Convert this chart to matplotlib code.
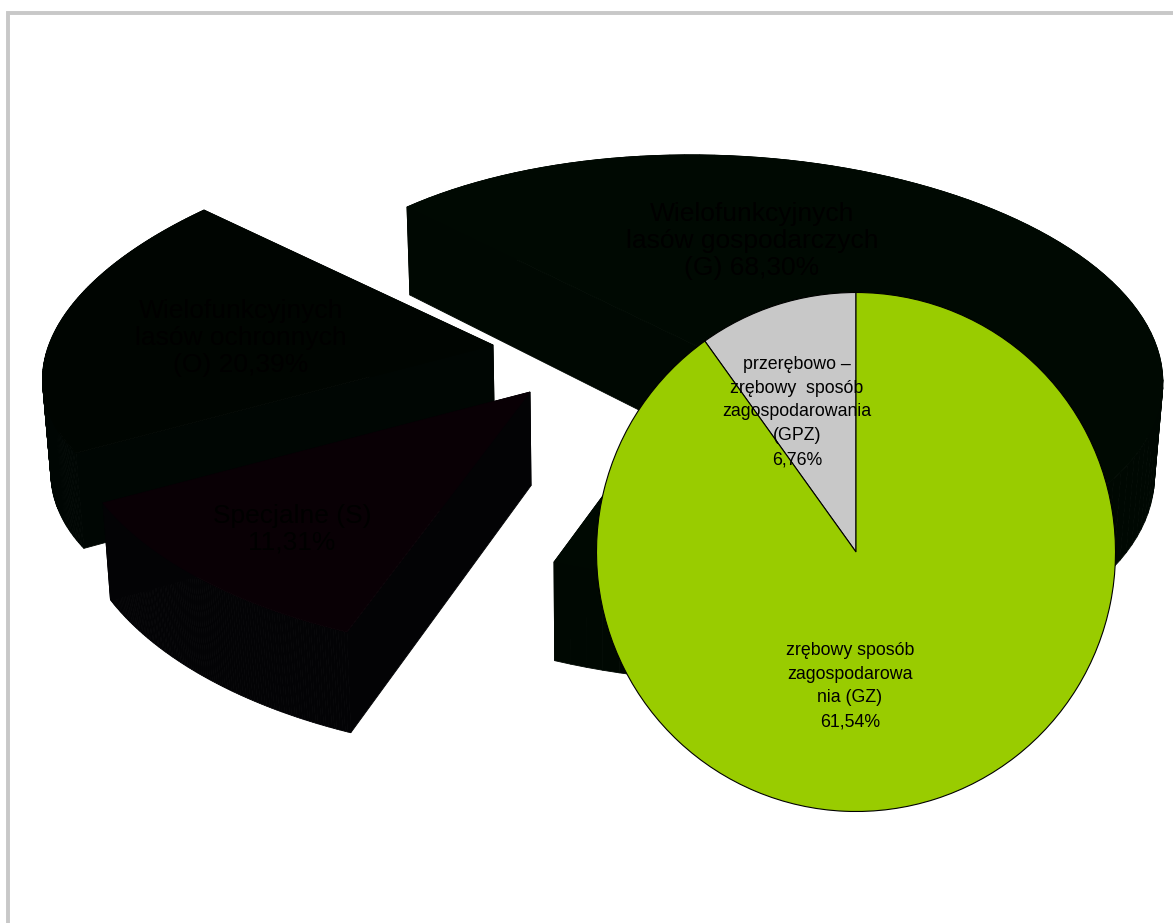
import numpy as np
import matplotlib
matplotlib.use("Agg")
import matplotlib.pyplot as plt

plt.rcParams['font.family'] = ['Liberation Sans', 'DejaVu Sans']

# DATA
big_names = ["G", "O", "S"]
big_values = [68.30, 20.39, 11.31]
big_labels = ["Wielofunkcyjnych\nlasów gospodarczych\n(G) 68,30%",
              "Wielofunkcyjnych\nlasów ochronnych\n(O) 20,39%",
              "Specjalne (S)\n11,31%"]

small_values = [6.76, 61.54]
small_labels = ["przerębowo –\nzrębowy  sposób\nzagospodarowania\n(GPZ)\n6,76%",
                "zrębowy sposób\nzagospodarowa\nnia (GZ)\n61,54%"]

# LOOK: where each exploded slice lands on the page (tip, arc start, arc middle, arc end)
placement = {
    "G": [(709, 352), (407, 207), (1140, 314), (554, 562)],
    "O": [(493, 345), (204, 210), (55, 331), (76, 453)],
    "S": [(530, 392), (347, 632), (199, 578), (103, 503)],
}
top_colors = {"G": "#000902", "O": "#000501", "S": "#090005"}
side_colors = {"G": "#000802", "O": "#000603", "S": "#030305"}
big_label_pos = [(752, 241), (241, 338), (292, 529)]
small_label_pos = [(797, 412), (850, 686)]


def homography(src, dst):
    a = []
    b = []
    for (x, y), (u, v) in zip(src, dst):
        a.append([x, y, 1, 0, 0, 0, -u * x, -u * y])
        a.append([0, 0, 0, x, y, 1, -v * x, -v * y])
        b += [u, v]
    h = np.linalg.solve(np.array(a, float), np.array(b, float))
    return np.append(h, 1).reshape(3, 3)


def slice_outline(value, anchors):
    # the sweep comes from the value, the perspective from the anchors
    sweep = np.radians(value * 3.6)
    src = [(0, 0), (1, 0), (np.cos(sweep / 2), np.sin(sweep / 2)), (np.cos(sweep), np.sin(sweep))]
    h = homography(src, anchors)
    t = np.linspace(0, sweep, 120)
    pts = np.column_stack([np.r_[0, np.cos(t)], np.r_[0, np.sin(t)], np.ones(t.size + 1)])
    out = pts @ h.T
    return out[:, :2] / out[:, 2:]


def extrude(pts):
    # depth grows a little towards the viewer, sides lean to the middle
    low = pts.copy()
    low[:, 0] += (600 - pts[:, 0]) * 0.015
    low[:, 1] += 88 + (pts[:, 1] - 207) * 0.03
    return low


fig = plt.figure(figsize=(11.73, 9.23), dpi=100)
ax = fig.add_axes([0, 0, 1, 1])

# 3D pie
for name, value in zip(big_names, big_values):
    top = slice_outline(value, placement[name])
    low = extrude(top)
    for i in range(len(top)):
        j = (i + 1) % len(top)
        ax.fill([top[i, 0], top[j, 0], low[j, 0], low[i, 0]],
                [top[i, 1], top[j, 1], low[j, 1], low[i, 1]],
                color=side_colors[name], lw=0.6, zorder=2)
    ax.fill(top[:, 0], top[:, 1], color=top_colors[name], lw=0.5, zorder=2)

for label, (x, y) in zip(big_labels, big_label_pos):
    ax.text(x, y, label, ha="center", va="center", fontsize=19, color="black", linespacing=1.15, zorder=3)

# pie of the G slice
ax.pie(small_values, colors=["#c8c8c8", "#99cc00"], center=(856, 552), radius=259.5, startangle=270,
       counterclock=False, wedgeprops={"edgecolor": "black", "linewidth": 0.8, "zorder": 4})

for label, (x, y) in zip(small_labels, small_label_pos):
    ax.text(x, y, label, ha="center", va="center", fontsize=12.8, color="black", linespacing=1.53, zorder=5)

# outer frame, only top and left show
ax.plot([8, 8, 1173], [923, 12.5, 12.5], color="#c8c8c8", lw=2.8, solid_joinstyle="miter", zorder=1)

ax.set_xlim(0, 1173)
ax.set_ylim(923, 0)
ax.set_aspect("auto")
ax.axis("off")

plt.savefig("out.png", dpi=100)
plt.close()
